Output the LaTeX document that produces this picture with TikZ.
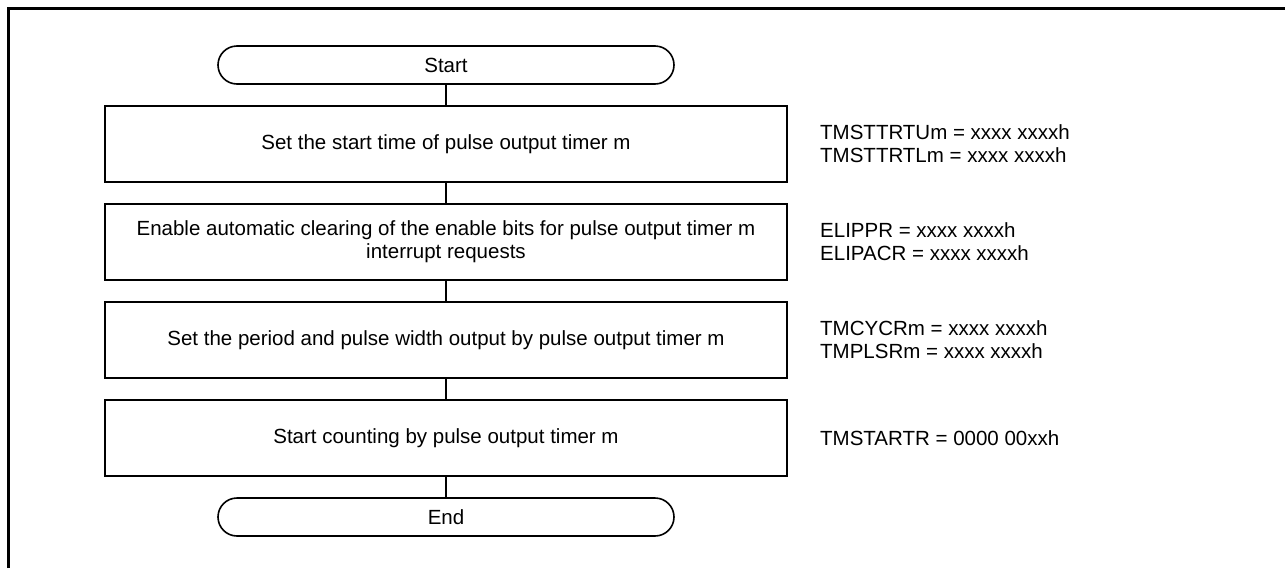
\documentclass[tikz,border=0pt]{standalone}
\usepackage{fontspec}
\setmainfont{Liberation Sans}
\begin{document}
\begin{tikzpicture}[x=1pt,y=-1pt,
  every node/.style={font=\fontsize{20.5}{23}\selectfont},
  terminal/.style={draw,line width=1.6pt,rounded corners=19pt,minimum width=456pt,minimum height=38pt,inner sep=0pt},
  stepbox/.style={draw,line width=1.6pt,minimum width=682pt,minimum height=76pt,inner sep=0pt,align=center},
  note/.style={anchor=west,align=left,inner sep=0pt},
  link/.style={line width=1.6pt}]
\useasboundingbox (0,0) rectangle (1285,568);
\draw[line width=3pt] (8,568) -- (8,8) -- (1285,8);

\node[terminal] (start) at (446,65) {Start};
\node[stepbox] (s1) at (446,144) {Set the start time of pulse output timer m};
\node[stepbox] (s2) at (446,242) {Enable automatic clearing of the enable bits for pulse output timer m\\interrupt requests};
\node[stepbox] (s3) at (446,340) {Set the period and pulse width output by pulse output timer m};
\node[stepbox] (s4) at (446,438) {Start counting by pulse output timer m};
\node[terminal] (end) at (446,517) {End};

\draw[link] (start.south) -- (s1.north);
\draw[link] (s1.south) -- (s2.north);
\draw[link] (s2.south) -- (s3.north);
\draw[link] (s3.south) -- (s4.north);
\draw[link] (s4.south) -- (end.north);

\node[note] (n1) at (820,144) {TMSTTRTUm = xxxx xxxxh\\TMSTTRTLm = xxxx xxxxh};
\node[note] (n2) at (820,242) {ELIPPR = xxxx xxxxh\\ELIPACR = xxxx xxxxh};
\node[note] (n3) at (820,340) {TMCYCRm = xxxx xxxxh\\TMPLSRm = xxxx xxxxh};
\node[note] (n4) at (820,438) {TMSTARTR = 0000 00xxh};
\end{tikzpicture}
\end{document}
